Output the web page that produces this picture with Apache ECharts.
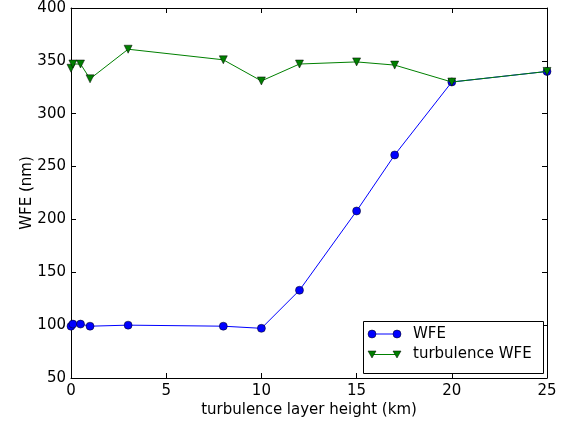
<!DOCTYPE html>
<html>
<head>
<meta charset="utf-8">
<script src="https://cdn.jsdelivr.net/npm/echarts@6/dist/echarts.min.js"></script>
<style>
html,body{margin:0;padding:0;background:#fff;}
#chart{width:574px;height:424px;}
</style>
</head>
<body>
<div id="chart"></div>
<script>
// Data
const heights = [0, 0.1, 0.5, 1, 3, 8, 10, 12, 15, 17, 20, 25];
const wfe = [99, 101, 101, 99, 100, 99, 97, 133, 208, 261, 330, 340];
const turbulenceWfe = [343, 347, 347, 333, 361, 351, 331, 347, 349, 346, 330, 340];
const xTicks = [0, 5, 10, 15, 20, 25];
const yTicks = [50, 100, 150, 200, 250, 300, 350, 400];

const FONT = 'DejaVu Sans';
const chart = echarts.init(document.getElementById('chart'), null, {renderer: 'canvas'});

function pairs(xs, ys) { return xs.map((x, i) => [x, ys[i]]); }

const baseAxisX = {
  type: 'value', min: xTicks[0], max: xTicks[xTicks.length - 1], interval: 5,
  axisLine: {show: true, onZero: false, lineStyle: {color: '#000', width: 1}},
  axisTick: {show: true, inside: true, length: 5, lineStyle: {color: '#000', width: 1}},
  splitLine: {show: false}
};
const baseAxisY = {
  type: 'value', min: yTicks[0], max: yTicks[yTicks.length - 1], interval: 50,
  axisLine: {show: true, onZero: false, lineStyle: {color: '#000', width: 1}},
  axisTick: {show: true, inside: true, length: 5, lineStyle: {color: '#000', width: 1}},
  splitLine: {show: false}
};

const option = {
  animation: false,
  backgroundColor: '#fff',
  grid: {left: 71, top: 8, right: 27, bottom: 46, containLabel: false},
  xAxis: [
    Object.assign({}, baseAxisX, {
      position: 'bottom',
      name: 'turbulence layer height (km)',
      nameLocation: 'middle', nameGap: 25, nameMoveOverlap: false,
      nameTextStyle: {fontFamily: FONT, fontSize: 15, color: '#000'},
      axisLabel: {show: true, margin: 6, fontFamily: FONT, fontSize: 15, color: '#000'}
    }),
    Object.assign({}, baseAxisX, {position: 'top', axisLabel: {show: false}})
  ],
  yAxis: [
    Object.assign({}, baseAxisY, {
      position: 'left',
      name: 'WFE (nm)',
      nameLocation: 'middle', nameGap: 36, nameRotate: 90, nameMoveOverlap: false,
      nameTextStyle: {fontFamily: FONT, fontSize: 15, color: '#000'},
      axisLabel: {show: true, margin: 5, fontFamily: FONT, fontSize: 15, color: '#000'}
    }),
    Object.assign({}, baseAxisY, {position: 'right', axisLabel: {show: false}})
  ],
  series: [
    {
      name: 'WFE', type: 'line', xAxisIndex: 0, yAxisIndex: 0,
      data: pairs(heights, wfe),
      symbol: 'circle', symbolSize: 8, showAllSymbol: true,
      lineStyle: {color: '#0000ff', width: 1},
      itemStyle: {color: '#0000ff', borderColor: '#000', borderWidth: 0.5},
      emphasis: {disabled: true}, z: 2
    },
    {
      name: 'turbulence WFE', type: 'line', xAxisIndex: 0, yAxisIndex: 0,
      data: pairs(heights, turbulenceWfe),
      symbol: 'triangle', symbolRotate: 180, symbolSize: 8, showAllSymbol: true,
      lineStyle: {color: '#008000', width: 1},
      itemStyle: {color: '#008000', borderColor: '#000', borderWidth: 0.5},
      emphasis: {disabled: true}, z: 3
    }
  ],
  graphic: [
    {type: 'rect', z: 100, shape: {x: 363.5, y: 321.5, width: 180, height: 52},
     style: {fill: '#fff', stroke: '#000', lineWidth: 1}},
    {type: 'line', z: 101, shape: {x1: 372, y1: 334, x2: 397, y2: 334},
     style: {stroke: '#0000ff', lineWidth: 1}},
    {type: 'circle', z: 102, shape: {cx: 372, cy: 334, r: 4},
     style: {fill: '#0000ff', stroke: '#000', lineWidth: 0.5}},
    {type: 'circle', z: 102, shape: {cx: 397, cy: 334, r: 4},
     style: {fill: '#0000ff', stroke: '#000', lineWidth: 0.5}},
    {type: 'text', z: 102, x: 413, y: 334,
     style: {text: 'WFE', fontFamily: FONT, fontSize: 15, fill: '#000', verticalAlign: 'middle', align: 'left'}},
    {type: 'line', z: 101, shape: {x1: 372, y1: 354.5, x2: 397, y2: 354.5},
     style: {stroke: '#008000', lineWidth: 1}},
    {type: 'polygon', z: 102, shape: {points: [[368, 351], [376, 351], [372, 358]]},
     style: {fill: '#008000', stroke: '#000', lineWidth: 0.5}},
    {type: 'polygon', z: 102, shape: {points: [[393, 351], [401, 351], [397, 358]]},
     style: {fill: '#008000', stroke: '#000', lineWidth: 0.5}},
    {type: 'text', z: 102, x: 413, y: 354.5,
     style: {text: 'turbulence WFE', fontFamily: FONT, fontSize: 15, fill: '#000', verticalAlign: 'middle', align: 'left'}}
  ]
};
chart.setOption(option);
</script>
</body>
</html>
